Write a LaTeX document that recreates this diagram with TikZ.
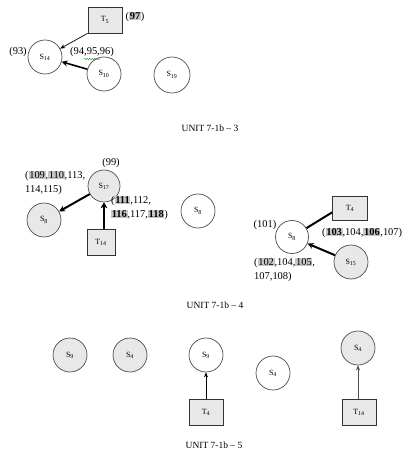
\documentclass[tikz,border=0pt]{standalone}
\usepackage{fontspec}
\setmainfont{Liberation Serif}
\usetikzlibrary{arrows.meta,decorations.pathmorphing}
\newcommand{\hlg}[1]{{\setlength{\fboxsep}{0.6pt}\colorbox{gray!45}{#1}}}
\newcommand{\hlb}[1]{{\setlength{\fboxsep}{0.6pt}\colorbox{gray!45}{\bfseries #1}}}
\tikzset{
  st/.style={circle, draw=black!70, line width=0.7pt, minimum size=34bp, inner sep=0pt, font=\fontsize{8}{9}\selectfont},
  stw/.style={st, fill=white},
  stg/.style={st, fill=gray!18},
  tbox/.style={rectangle, draw=black!80, line width=0.7pt, fill=gray!18, minimum width=34bp, minimum height=26bp, inner sep=0pt, font=\fontsize{8}{9}\selectfont},
  lbl/.style={inner sep=0pt, font=\fontsize{10.5}{14}\selectfont, align=left},
  captxt/.style={inner sep=0pt, font=\fontsize{9.5}{11}\selectfont},
  thinarr/.style={-{Stealth[length=5bp,width=4bp]}, line width=0.7pt},
  thickarr/.style={-{Stealth[length=6bp,width=6bp]}, line width=2pt},
}
\begin{document}
\begin{tikzpicture}[x=1bp,y=-1bp]
\useasboundingbox (0,0) rectangle (404,465);
% ---------- panel 3 ----------
\node[tbox] (t5) at (105,20) {T\textsubscript{5}};
\node[lbl] (l97) at (135,17) {(\hlb{97})};
\node[stw] (s14) at (45,57) {S\textsubscript{14}};
\node[stw] (s10) at (104,74) {S\textsubscript{10}};
\node[stw, minimum size=36bp] (s19) at (172,75) {S\textsubscript{19}};
\node[lbl] (l93) at (18,52) {(93)};
\node[lbl] (l94) at (92,52) {(94,95,96)};
\coordinate (wv1) at (84,59);
\coordinate (wv2) at (100,59);
\draw[green!55!black, line width=0.4pt, decorate, decoration={snake,amplitude=0.6bp,segment length=2.5bp}] (wv1) -- (wv2);
\draw[thinarr] (t5.south west) -- (s14);
\draw[thickarr, line width=1.6pt] (s10) -- (s14);
\node[captxt] (c3) at (210,128) {UNIT 7-1b -- 3};
% ---------- panel 4 ----------
\node[stg, minimum size=32bp] (s17) at (104,186) {S\textsubscript{17}};
\node[lbl] (l99) at (111,163) {(99)};
\node[lbl, anchor=north west] (l109) at (25,171) {(\hlg{109},\hlg{110},113,\\114,115)};
\node[stg] (s8a) at (44,220) {S\textsubscript{8}};
\node[tbox, minimum width=28bp] (t14a) at (101,242) {T\textsubscript{14}};
\node[lbl, anchor=north west] (l111) at (111,196) {(\hlb{111},112,\\\hlb{116},117,\hlb{118})};
\node[stw] (s8b) at (198,211) {S\textsubscript{8}};
\draw[thickarr] (s17) -- (s8a);
\draw[-{Stealth[length=6bp,width=7bp]}, line width=3pt] (t14a.north -| s17) -- (s17);
% right cluster
\node[stw, minimum size=33bp] (s8c) at (292,237) {S\textsubscript{8}};
\node[lbl] (l101) at (265,225) {(101)};
\node[tbox, minimum width=35bp, minimum height=24bp] (t4a) at (350,208) {T\textsubscript{4}};
\node[lbl, anchor=west] (l103) at (322,233) {(\hlb{103},104,\hlb{106},107)};
\node[stg] (s15) at (351,262) {S\textsubscript{15}};
\node[lbl, anchor=north west] (l102) at (254,258) {(\hlg{102},104,\hlg{105},\\107,108)};
\coordinate (t4p) at ([yshift=8bp]t4a.south west);
\draw[line width=2pt] (t4p) -- (s8c);
\draw[thickarr] (s15) -- (s8c);
\node[captxt] (c4) at (215,305) {UNIT 7-1b -- 4};
% ---------- panel 5 ----------
\node[stg] (s9a) at (70,355) {S\textsubscript{9}};
\node[stg] (s4a) at (130,355) {S\textsubscript{4}};
\node[stw] (s9b) at (206,355) {S\textsubscript{9}};
\node[tbox] (t4b) at (206,412) {T\textsubscript{4}};
\draw[thinarr] (t4b) -- (s9b);
\node[stw] (s4b) at (273,373) {S\textsubscript{4}};
\node[stg] (s4c) at (358,348) {S\textsubscript{4}};
\node[tbox] (t14b) at (359,412) {T\textsubscript{14}};
\draw[thinarr, draw=black!70, fill=black!70] (t14b.north -| s4c) -- (s4c);
\node[captxt] (c5) at (214,445) {UNIT 7-1b -- 5};
\end{tikzpicture}
\end{document}
